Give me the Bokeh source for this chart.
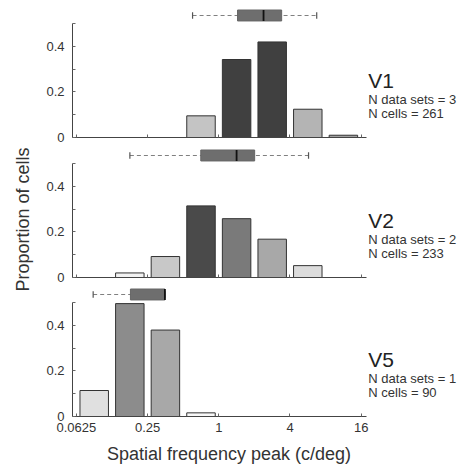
import math
from bokeh.plotting import figure
from bokeh.layouts import column, row
from bokeh.models import FixedTicker, CustomJSTickFormatter, Range1d, ColumnDataSource
from bokeh.embed import file_html
from bokeh.resources import INLINE
from bokeh.core.properties import value

# ---------------- data ----------------
bin_centers = [0.0884, 0.1768, 0.3536, 0.7071, 1.4142, 2.8284, 5.6569, 11.3137]  # c/deg (octave bins)
x_ticks = [0.0625, 0.25, 1, 4, 16]
y_ticks = [0, 0.2, 0.4]
y_minor = [0.1, 0.3, 0.5]

areas = ["V1", "V2", "V5"]
n_datasets = ["N data sets = 3", "N data sets  = 2", "N data sets = 1"]
n_cells = ["N cells = 261", "N cells = 233", "N cells = 90"]

v1_props = [0, 0, 0, 0.095, 0.342, 0.419, 0.124, 0.010]
v2_props = [0, 0.020, 0.092, 0.314, 0.258, 0.168, 0.052, 0]
v5_props = [0.114, 0.495, 0.379, 0.016, 0, 0, 0, 0]

v1_colors = ["#ffffff", "#ffffff", "#ffffff", "#c4c4c4", "#404040", "#404040", "#b4b4b4", "#a0a0a0"]
v2_colors = ["#ffffff", "#f2f2f2", "#c8c8c8", "#4a4a4a", "#7a7a7a", "#a8a8a8", "#dcdcdc", "#ffffff"]
v5_colors = ["#e0e0e0", "#8c8c8c", "#a8a8a8", "#f8f8f8", "#ffffff", "#ffffff", "#ffffff", "#ffffff"]

# box plot stats (c/deg): low whisker, q1, median, q3, high whisker
v1_box = [0.60, 1.44, 2.39, 3.40, 6.73]
v2_box = [0.177, 0.704, 1.414, 2.01, 5.74]
v5_box = [0.0866, 0.179, 0.350, 0.350, 0.350]

x_label = "Spatial frequency peak (c/deg)"
y_label = "Proportion of cells"

props = [v1_props, v2_props, v5_props]
colors = [v1_colors, v2_colors, v5_colors]
boxes = [v1_box, v2_box, v5_box]

FONT = "Liberation Sans"
LEFT_W = 40
FRAME_L = 72
half_bar = 2 ** 0.4
x_lo, x_hi_axis, x_hi = 2 ** -4.11, 2 ** 4.14, 2 ** 6.79
box_y, box_h = 0.535, 0.024

tops = [7, 2, 1]
bottoms = [8, 8, 22]
heights = [145, 140, 153]

figs = []
for i in range(3):
    p = figure(width=460 - LEFT_W, height=heights[i], x_axis_type="log",
               x_range=Range1d(x_lo, x_hi), y_range=Range1d(0, 0.57),
               output_backend="svg", toolbar_location=None,
               min_border_left=FRAME_L - LEFT_W, min_border_right=0,
               min_border_top=tops[i], min_border_bottom=bottoms[i])
    p.outline_line_color = None
    p.xgrid.visible = False
    p.ygrid.visible = False
    p.background_fill_color = "white"

    src = ColumnDataSource(dict(
        left=[c / half_bar for c in bin_centers],
        right=[c * half_bar for c in bin_centers],
        top=props[i], color=colors[i]))
    p.quad(left="left", right="right", bottom=0, top="top", source=src,
           fill_color="color", line_color="#333333", line_width=1)

    lo, q1, med, q3, hi = boxes[i]
    p.segment(x0=[lo], y0=[box_y], x1=[hi], y1=[box_y], line_color="#808080",
              line_width=1.2, line_dash="4 3")
    p.segment(x0=[lo, hi], y0=[box_y - 0.014] * 2, x1=[lo, hi], y1=[box_y + 0.014] * 2,
              line_color="#555555", line_width=1.2)
    p.quad(left=[q1], right=[q3], bottom=[box_y - box_h], top=[box_y + box_h],
           fill_color="#6e6e6e", line_color="#666666", line_width=1)
    p.segment(x0=[med], y0=[box_y - box_h], x1=[med], y1=[box_y + box_h],
              line_color="#111111", line_width=1.8)

    # area annotations on the right
    p.text(x=[2 ** 4.2], y=[0.25], text=[areas[i]], text_font=value(FONT),
           text_font_size="21px", text_color="#222222", text_baseline="middle")
    p.text(x=[2 ** 4.2, 2 ** 4.2], y=[0.165, 0.104], text=[n_datasets[i], n_cells[i]],
           text_font=value(FONT), text_font_size="13px", text_color="#333333",
           text_baseline="middle")

    # axes
    xa = p.xaxis[0]
    xa.ticker = FixedTicker(ticks=x_ticks, minor_ticks=[])
    xa.bounds = (x_lo, x_hi_axis)
    xa.axis_line_color = "#444444"
    xa.major_tick_line_color = "#666666"
    xa.major_tick_in = 3
    xa.major_tick_out = 0
    xa.minor_tick_line_color = None
    xa.major_label_text_font = FONT
    xa.major_label_text_color = "#333333"
    xa.major_label_text_font_size = "13px"
    if i < 2:
        xa.formatter = CustomJSTickFormatter(code="return '';")
        xa.major_label_standoff = 0
    else:
        xa.formatter = CustomJSTickFormatter(code="return tick.toString();")
        xa.major_label_standoff = 6

    ya = p.yaxis[0]
    ya.ticker = FixedTicker(ticks=y_ticks, minor_ticks=y_minor)
    ya.bounds = (0, 0.5)
    ya.axis_line_color = "#444444"
    ya.major_tick_line_color = "#666666"
    ya.minor_tick_line_color = "#666666"
    ya.major_tick_in = 3
    ya.major_tick_out = 0
    ya.minor_tick_in = 3
    ya.minor_tick_out = 0
    ya.major_label_text_font = FONT
    ya.major_label_text_font_size = "13px"
    ya.major_label_text_color = "#333333"
    ya.major_label_standoff = 8
    figs.append(p)

# x-axis title strip (its frame is aligned with the panels' frames: page x 72..460)
xl = figure(width=460 - LEFT_W, height=30, x_range=Range1d(FRAME_L, 460), y_range=Range1d(0, 30),
            output_backend="svg", toolbar_location=None,
            min_border=0, min_border_left=FRAME_L - LEFT_W, min_border_right=0,
            min_border_top=0, min_border_bottom=0,
            x_axis_location=None, y_axis_location=None)
xl.outline_line_color = None
xl.grid.visible = False
xl.text(x=[228.5], y=[15], text=[x_label], text_font=value(FONT), text_font_size="18px",
        text_color="#333333", text_align="center", text_baseline="middle")

# y-axis title strip
yl = figure(width=LEFT_W, height=468, x_range=Range1d(0, LEFT_W), y_range=Range1d(0, 468),
            output_backend="svg", toolbar_location=None,
            min_border=0, min_border_left=0, min_border_right=0,
            min_border_top=0, min_border_bottom=0,
            x_axis_location=None, y_axis_location=None)
yl.outline_line_color = None
yl.grid.visible = False
yl.text(x=[22], y=[468 - 219], text=[y_label], text_font=value(FONT), text_font_size="18px",
        text_color="#333333", text_align="center", text_baseline="middle", angle=math.pi / 2)

layout = row(yl, column(*figs, xl, spacing=0), spacing=0)
open("out.html", "w").write(file_html(layout, INLINE))
